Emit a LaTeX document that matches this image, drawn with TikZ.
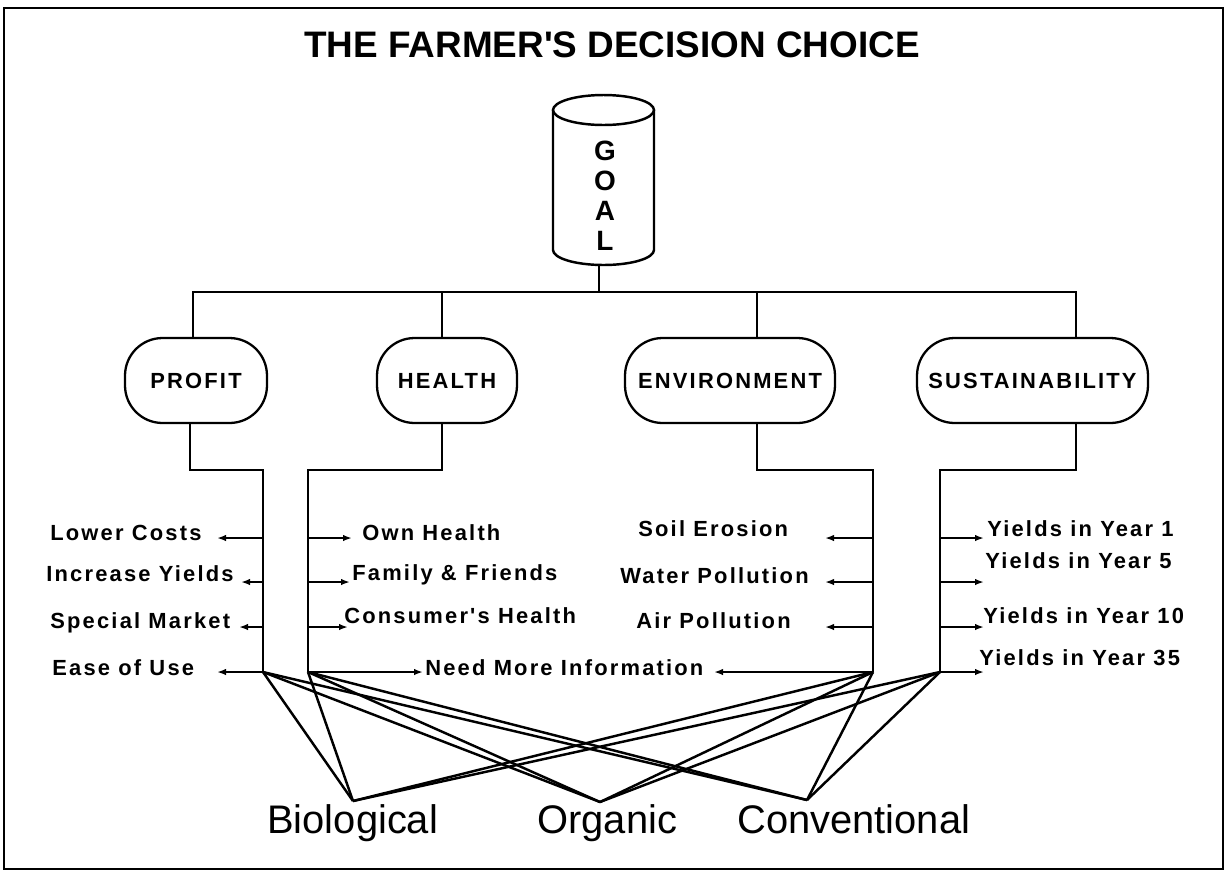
\documentclass[tikz,border=0pt]{standalone}
\usepackage{fontspec}
\setmainfont{Liberation Sans}
\newfontfamily\lblf{Liberation Sans}[LetterSpace=10]
\newfontfamily\titlef{Liberation Sans}
\usetikzlibrary{arrows.meta}
\tikzset{
  line/.style={line width=1.4pt},
  framebox/.style={line width=0.9pt},
  cat/.style={draw, line width=1.3pt, rounded corners=0.75cm, minimum height=1.7cm, inner sep=0pt,
    font=\lblf\bfseries\fontsize{12.47}{15}\selectfont},
  lbl/.style={inner sep=0pt, anchor=base west, font=\lblf\bfseries\fontsize{12.47}{15}\selectfont},
  alt/.style={inner sep=0pt, anchor=base west, font=\fontsize{22.7}{26}\selectfont},
  arr/.style={line width=1.2pt, -{Latex[length=1.8mm,width=1.3mm]}},
  link/.style={line width=1.4pt}
}
\begin{document}
\begin{tikzpicture}[x=0.02cm,y=-0.02cm]
\useasboundingbox (0,0) rectangle (1230,873);
\draw[framebox] (4,8) rectangle (1223,869);
% title
\node[font=\titlef\bfseries\fontsize{21}{24}\selectfont, inner sep=0pt] (title) at (612,45) {THE FARMER'S DECISION CHOICE};
% goal cylinder
\draw[line] (553,110) -- (553,250) arc[start angle=180,end angle=360,x radius=1.01cm,y radius=0.3cm] -- (654,110);
\draw[line] (603.5,110) ellipse [x radius=1.01cm, y radius=0.3cm];
\node[align=center, inner sep=0pt, font=\bfseries\fontsize{15.9}{17}\selectfont] (goal) at (605,196) {G\\O\\A\\L};
\coordinate (goalbase) at (599,265);
\coordinate (bus) at (599,292);
% categories
\node[cat, minimum width=2.84cm] (profit) at (196,380.5) {PROFIT};
\node[cat, minimum width=2.8cm] (health) at (447,380.5) {HEALTH};
\node[cat, minimum width=4.2cm] (env) at (730,380.5) {ENVIRONMENT};
\node[cat, minimum width=4.62cm] (sust) at (1032.5,380.5) {SUSTAINABILITY};
\coordinate (pn) at ([xshift=-0.06cm]profit.north);
\coordinate (hn) at ([xshift=-0.1cm]health.north);
\coordinate (en) at ([xshift=0.54cm]env.north);
\coordinate (sn) at ([xshift=0.87cm]sust.north);
\draw[line] (goalbase) -- (bus);
\draw[line] (pn) |- (bus) -| (sn);
\draw[line] (hn) -- (hn |- bus);
\draw[line] (en) -- (en |- bus);
% stems down
\coordinate (hbar) at (0,470);
\coordinate (pc) at (263,672);
\coordinate (hc) at (308,672);
\coordinate (ec) at (873,672);
\coordinate (sc) at (940,672);
\coordinate (ps) at ([xshift=-0.12cm]profit.south);
\coordinate (hs) at ([xshift=-0.1cm]health.south);
\coordinate (es) at ([xshift=0.54cm]env.south);
\coordinate (ss) at ([xshift=0.87cm]sust.south);
\draw[line] (ps) -- (ps |- hbar) -| (pc);
\draw[line] (hs) -- (hs |- hbar) -| (hc);
\draw[line] (es) -- (es |- hbar) -| (ec);
\draw[line] (ss) -- (ss |- hbar) -| (sc);
% rows
\coordinate (r1) at (0,538);
\coordinate (r2) at (0,582);
\coordinate (r3) at (0,627);
\coordinate (r4) at (0,672);
% labels
\node[lbl] (l1) at (50,540) {Lower Costs};
\node[lbl] (l2) at (46,581) {Increase Yields};
\node[lbl] (l3) at (50,628) {Special Market};
\node[lbl] (l4) at (52,675) {Ease of Use};
\node[lbl] (h1) at (362,540) {Own Health};
\node[lbl] (h2) at (352,580) {Family \& Friends};
\node[lbl] (h3) at (344,623) {Consumer's Health};
\node[lbl] (nm) at (425,675) {Need More Information};
\node[lbl] (e1) at (638,536) {Soil Erosion};
\node[lbl] (e2) at (620,583) {Water Pollution};
\node[lbl] (e3) at (636,628) {Air Pollution};
\node[lbl] (s1) at (987,536) {Yields in Year 1};
\node[lbl] (s2) at (985,568) {Yields in Year 5};
\node[lbl] (s3) at (983,623) {Yields in Year 10};
\node[lbl] (s4) at (979,665) {Yields in Year 35};
% arrow tips
\coordinate (tl1) at (217,538); \coordinate (tl2) at (241,582);
\coordinate (tl3) at (239,627); \coordinate (tl4) at (217,672);
\coordinate (th1) at (352,538); \coordinate (th2) at (350,582);
\coordinate (th3) at (348,627); \coordinate (th4) at (423,672);
\coordinate (te1) at (825,538); \coordinate (te2) at (825,582);
\coordinate (te3) at (825,627); \coordinate (te4) at (714,672);
\coordinate (ts1) at (984,538); \coordinate (ts2) at (984,582);
\coordinate (ts3) at (984,627); \coordinate (ts4) at (984,672);
\foreach \i in {1,2,3,4}{
  \draw[arr] (pc |- r\i) -- (tl\i);
  \draw[arr] (hc |- r\i) -- (th\i);
  \draw[arr] (ec |- r\i) -- (te\i);
  \draw[arr] (sc |- r\i) -- (ts\i);
}
% alternatives
\node[alt] (bio) at (267,833) {Biological};
\node[alt] (org) at (537,833) {Organic};
\node[alt] (conv) at (737,833) {Conventional};
\coordinate (bioA) at (353,801);
\coordinate (orgA) at (600,802);
\coordinate (convA) at (807,800);
\foreach \s in {pc,hc,ec,sc}{
  \foreach \t in {bioA,orgA,convA}{
    \draw[link] (\s) -- (\t);
  }
}
\end{tikzpicture}
\end{document}
